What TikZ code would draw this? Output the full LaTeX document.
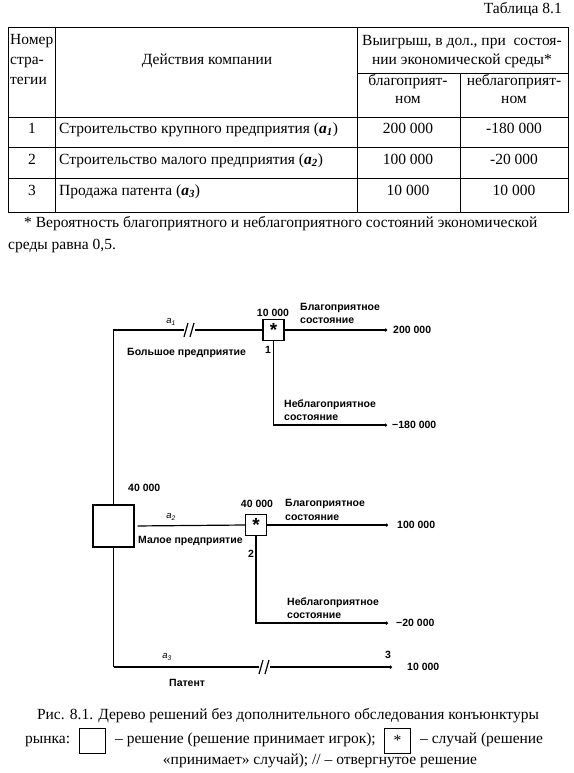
\documentclass[tikz,border=0pt]{standalone}
\usepackage{fontspec}
\setmainfont{Liberation Serif}
\newfontfamily\treefont{Liberation Sans}
\usetikzlibrary{arrows.meta}
\begin{document}
\begin{tikzpicture}[x=1pt,y=-1pt,
  tline/.style={line width=0.7pt},
  tree/.style={line width=1.2pt},
  ttext/.style={font=\fontsize{15.5}{18}\selectfont, inner sep=0pt},
  lab/.style={font=\treefont\bfseries\fontsize{10.5}{13.5}\selectfont, inner sep=0pt, align=left},
  alab/.style={font=\treefont\itshape\fontsize{9.5}{10}\selectfont, inner sep=0pt},
  chance/.style={draw, line width=1.2pt, minimum size=21pt, inner sep=0pt, font=\treefont\bfseries\fontsize{19}{19}\selectfont},
  decision/.style={draw, line width=1.2pt, minimum width=41pt, minimum height=42pt, inner sep=0pt},
  endpt/.style={-{Circle[length=3pt]}},
  brk/.style={line width=1.2pt},
  capbox/.style={draw, line width=0.6pt, minimum width=26pt, minimum height=25pt, inner sep=0pt},
]
\useasboundingbox (0,0) rectangle (573,773);
% ---------------- table ----------------
\node[ttext, anchor=mid east] (tabno) at (562,11) {Таблица 8.1};
\draw[tline] (8,27) rectangle (568,212);
\draw[tline] (55,27) -- (55,212);
\draw[tline] (357,27) -- (357,212);
\draw[tline] (460,73) -- (460,212);
\draw[tline] (357,73) -- (568,73);
\draw[tline] (8,117) -- (568,117);
\draw[tline] (8,147) -- (568,147);
\draw[tline] (8,178) -- (568,178);
\node[ttext, anchor=mid west] (h1a) at (10,42) {Номер};
\node[ttext, anchor=mid west] (h1b) at (10,62) {стра-};
\node[ttext, anchor=mid west] (h1c) at (10,82) {тегии};
\node[ttext, anchor=mid] (h2) at (207,62) {Действия компании};
\node[ttext, anchor=mid] (h3a) at (462,43) {Выигрыш, в дол., при\ \ состоя-};
\node[ttext, anchor=mid] (h3b) at (462,62) {нии экономической среды*};
\node[ttext, anchor=mid] (h4a) at (408,83) {благоприят-};
\node[ttext, anchor=mid] (h4b) at (408,101) {ном};
\node[ttext, anchor=mid] (h5a) at (514,83) {неблагоприят-};
\node[ttext, anchor=mid] (h5b) at (514,101) {ном};
\node[ttext, anchor=mid] (r1n) at (32,131) {1};
\node[ttext, anchor=mid west] (r1t) at (59,131) {Строительство крупного предприятия (\textbf{\textit{a\textsubscript{1}}})};
\node[ttext, anchor=mid] (r1a) at (408,131) {200 000};
\node[ttext, anchor=mid] (r1b) at (514,131) {-180 000};
\node[ttext, anchor=mid] (r2n) at (32,162) {2};
\node[ttext, anchor=mid west] (r2t) at (59,162) {Строительство малого предприятия (\textbf{\textit{a\textsubscript{2}}})};
\node[ttext, anchor=mid] (r2a) at (408,162) {100 000};
\node[ttext, anchor=mid] (r2b) at (514,162) {-20 000};
\node[ttext, anchor=mid] (r3n) at (32,193) {3};
\node[ttext, anchor=mid west] (r3t) at (59,193) {Продажа патента (\textbf{\textit{a\textsubscript{3}}})};
\node[ttext, anchor=mid] (r3a) at (408,193) {10 000};
\node[ttext, anchor=mid] (r3b) at (514,193) {10 000};
\node[ttext, anchor=mid west] (fn1) at (24,225) {* Вероятность благоприятного и неблагоприятного состояний экономической};
\node[ttext, anchor=mid west] (fn2) at (8,247) {среды равна 0,5.};
% ---------------- tree ----------------
\node[decision] (D) at (113.5,526) {};
\node[chance] (C1) at (273.5,330) {*};
\node[chance] (C2) at (256,525) {*};
\coordinate (top) at (113.5,330);
\coordinate (bot) at (113.5,667);
\coordinate (e1) at (387,330);
\coordinate (k1) at (C1.south |- 0,425);
\coordinate (e2) at (387,425);
\coordinate (e3) at (388,525);
\coordinate (k2) at (C2.south |- 0,623);
\coordinate (e4) at (388,623);
\coordinate (e5) at (392,667);
\draw[tree] (D.north) -- (top) -- (C1.west);
\draw[tree] (D.south) -- (bot);
\draw[tree, endpt] (bot) -- (e5);
\draw[tree, shorten <=3pt] (D.east) -- (C2.west);
\draw[tree, endpt] (C1.east) -- (e1);
\draw[tree, endpt] (C1.south) -- (k1) -- (e2);
\draw[tree, endpt] (C2.east) -- (e3);
\draw[tree, endpt] (C2.south) -- (k2) -- (e4);
% rejected marks
\fill[white] (184,326) rectangle (195,334);
\draw[brk] (184,337) -- (188,323);
\draw[brk] (190,337) -- (194,323);
\fill[white] (259,663) rectangle (270,671);
\draw[brk] (259,674) -- (263,660);
\draw[brk] (265,674) -- (269,660);
% labels
\node[lab] (l1v) at (273,313) {10 000};
\node[lab] (l1n) at (268,350) {1};
\node[lab, anchor=west] (l1g) at (300,313.5) {Благоприятное\\состояние};
\node[lab, anchor=west] (l1p) at (393,330) {200 000};
\node[lab, anchor=west] (l1b) at (284,410) {Неблагоприятное\\состояние};
\node[lab, anchor=west] (l1q) at (392,425) {−180 000};
\node[lab, anchor=west] (la1n) at (127,353) {Большое предприятие};
\node[alab] (la1) at (171,322) {a\textsubscript{1}};
\node[lab, anchor=west] (ldv) at (128,488) {40 000};
\node[lab] (l2v) at (257,504) {40 000};
\node[lab, anchor=west] (l2g) at (285,510) {Благоприятное\\состояние};
\node[lab, anchor=west] (l2p) at (397,525) {100 000};
\node[lab] (l2n) at (251,554) {2};
\node[lab, anchor=west] (l2b) at (287,608) {Неблагоприятное\\состояние};
\node[lab, anchor=west] (l2q) at (396,623) {−20 000};
\node[alab] (la2) at (171,517) {a\textsubscript{2}};
\node[lab, anchor=west] (la2n) at (138,541) {Малое предприятие};
\node[alab] (la3) at (167,657) {a\textsubscript{3}};
\node[lab, anchor=west] (la3n) at (169,683) {Патент};
\node[lab] (l3n) at (388,655) {3};
\node[lab, anchor=west] (l3p) at (407,667) {10 000};
% ---------------- caption ----------------
\node[ttext, anchor=mid] (cap1) at (288,717) {Рис. 8.1. Дерево решений без дополнительного обследования конъюнктуры};
\node[ttext, anchor=mid west] (cap2a) at (25,741) {рынка:};
\node[capbox] (cb1) at (92,740.5) {};
\node[ttext, anchor=mid west] (cap2b) at (115,741) {– решение (решение принимает игрок);};
\node[capbox, font=\fontsize{15.5}{18}\selectfont] (cb2) at (397.5,740.5) {*};
\node[ttext, anchor=mid west] (cap2c) at (420,741) {– случай (решение};
\node[ttext, anchor=mid] (cap3) at (320,762) {«принимает» случай); // – отвергнутое решение};
\end{tikzpicture}
\end{document}
